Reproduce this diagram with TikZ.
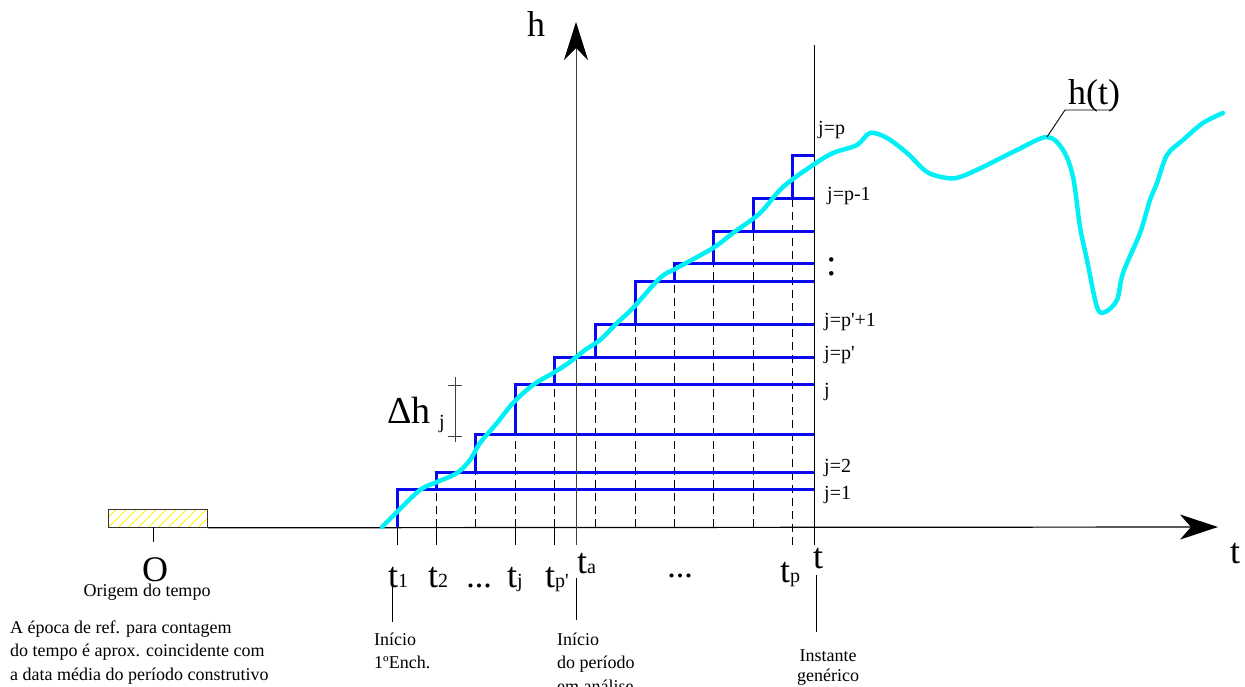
\documentclass[tikz,border=0pt]{standalone}
\usepackage{fontspec}
\setmainfont{Liberation Serif}[Ligatures=TeXOff]
\usetikzlibrary{arrows.meta}
\newcommand{\fs}[1]{\fontsize{#1}{#1}\selectfont}
\newcommand{\tsub}[1]{{\fs{36}t}{\fs{20}#1}}
\definecolor{stepblue}{RGB}{10,10,240}
\definecolor{hcyan}{RGB}{0,240,245}
\begin{document}
\begin{tikzpicture}[x=1pt,y=-1pt,
  blueline/.style={draw=stepblue, line width=3pt, line join=miter},
  dashline/.style={draw=black, line width=0.9pt, dash pattern=on 8pt off 5pt},
  axisline/.style={draw=black, line width=1.2pt},
  vaxis/.style={draw=black!75, line width=0.9pt},
  leader/.style={draw=black, line width=0.9pt},
  dimline/.style={draw=black!75, line width=0.9pt},
  hcurve/.style={draw=hcyan, line width=4.5pt, line cap=round, line join=round},
  big/.style={font=\fs{36}, inner sep=0pt},
  txt/.style={font=\fontsize{18}{23.5}\selectfont, inner sep=0pt, align=left},
  jlab/.style={font=\fs{20}, inner sep=0pt, anchor=mid west}
]
\useasboundingbox (0,0) rectangle (1245,687);
\fill[white] (0,0) rectangle (1245,687);

% steps and dashed verticals
\foreach \x/\ya/\yb in {436/489/472, 475/472/434, 515/434/384, 554/384/357, 595/357/324, 635/324/281, 674/281/263, 713/263/232, 753/232/199}
  \draw[dashline] (\x,527) -- (\x,\ya);
\draw[dashline] (792,545) -- (792,199);
\foreach \x/\ya/\yb in {397/527/489, 436/489/472, 475/472/434, 515/434/384, 554/384/357, 595/357/324, 635/324/281, 674/281/263, 713/263/232, 753/232/199, 792/199/156}
  \draw[blueline] (\x,\ya) -- (\x,\yb) -- (814,\yb);

% origin box
\node[draw=black!80, line width=0.8pt, minimum width=99pt, minimum height=18pt, inner sep=0pt, anchor=north west,
  path picture={\foreach \i in {-20,-10,...,110} \draw[yellow, line width=0.8pt] ([xshift=\i pt]path picture bounding box.south west) -- ++(18pt,18pt);}]
  (box) at (108,509) {};
\draw[leader] (153,527) -- (153,542);

% ticks
\foreach \x in {397,436,515,554}
  \draw[leader] (\x,527) -- (\x,545);
\draw[leader] (814,45) -- (814,545);

% axes
\draw[axisline, -{Stealth[length=38pt,width=25pt,inset=11pt]}] (box.south east) -- (1218,527);
\draw[vaxis, -{Stealth[length=38pt,width=24pt,inset=12pt,color=black]}] (576,545) -- (576,22);

% curve
\draw[hcurve] plot[smooth, tension=0.55] coordinates {
 (382,527) (397,512) (420,490) (437,482) (457,473) (470,460) (480,443) (497,423) (513,403)
 (533,385) (553,373) (570,362) (585,350) (600,340) (617,323) (633,308) (660,278) (677,268)
 (713,248) (733,233) (760,213) (783,187) (813,165) (833,153) (857,145) (870,133) (887,138)
 (907,153) (927,172) (947,178) (960,177) (983,167) (1017,150) (1047,137) (1063,150) (1073,177)
 (1080,227) (1087,260) (1097,307) (1105,312) (1117,300) (1123,273) (1140,233) (1150,200)
 (1157,183) (1167,155) (1183,140) (1203,123) (1223,113)};

% axis labels
\node[big, anchor=base] (hlab) at (536,37) {h};
\node[big, anchor=base] (tlab) at (1235,563) {t};
\node[big, anchor=base] (O) at (155,581) {O};
\node[txt, anchor=base] (origem) at (147,596) {Origem do tempo};
\node[txt, anchor=north west] (epoca) at (10,620.5) {A época de ref. para contagem\\do tempo é aprox. coincidente com\\a data média do período construtivo};

% time labels
\node[inner sep=0pt, anchor=base west] (t1) at (388,587) {\tsub{1}};
\node[inner sep=0pt, anchor=base west] (t2) at (428,587) {\tsub{2}};
\node[inner sep=0pt, anchor=base, font=\fs{34}] (dots1) at (479,587) {...};
\node[inner sep=0pt, anchor=base west] (tj) at (507,587) {\tsub{j}};
\node[inner sep=0pt, anchor=base west] (tpp) at (545,587) {\tsub{p'}};
\node[inner sep=0pt, anchor=base west] (ta) at (577,573) {\tsub{a}};
\node[inner sep=0pt, anchor=base, font=\fs{34}] (dots2) at (680,577) {...};
\node[inner sep=0pt, anchor=base west] (tp) at (780,582) {\tsub{p}};
\node[big, anchor=base west] (tgen) at (813,568) {t};

% leaders and notes
\coordinate (l1a) at (392,587); \coordinate (l1b) at (392,622);
\draw[leader] (l1a) -- (l1b);
\node[txt, anchor=north west] (inicio1) at (374,632.5) {Início\\1ºEnch.};
\coordinate (l2a) at (576,578); \coordinate (l2b) at (576,620);
\draw[leader] (l2a) -- (l2b);
\node[txt, anchor=north west] (inicio2) at (557,632.5) {Início\\do período\\em análise};
\coordinate (l3a) at (816,575); \coordinate (l3b) at (816,632);
\draw[leader] (l3a) -- (l3b);
\node[txt, anchor=north, align=center, font=\fontsize{18}{20}\selectfont] (inst) at (828,650) {Instante\\genérico};

% level labels
\node[jlab] (jp) at (818,132) {j=p};
\node[jlab] (jp1) at (827,198) {j=p-1};
\node[inner sep=0pt, anchor=base west, font=\fs{38}] (vdots) at (826,276) {:};
\node[jlab] (jpp1) at (824,324) {j=p'+1};
\node[jlab] (jpp) at (824,357) {j=p'};
\node[jlab] (jj) at (824,394) {j};
\node[jlab] (j2) at (824,470) {j=2};
\node[jlab] (j1) at (824,497) {j=1};

% delta h
\node[inner sep=0pt, anchor=base west, font=\fs{38}] (dh) at (387,423) {Δh};
\node[inner sep=0pt, anchor=base west, font=\fs{20}] (dhj) at (439,428) {j};
\draw[dimline] (455,377) -- (455,442);
\draw[dimline] (448,385) -- (462,385);
\draw[dimline] (448,436) -- (462,436);

% h(t)
\node[inner sep=0pt, anchor=base west, font=\fs{36}] (ht) at (1068,105) {h(t)};
\coordinate (hpt) at (1047,137);
\coordinate (hk) at (1065,110);
\coordinate (hend) at (1113,110);
\draw[leader] (hpt) -- (hk) -- (hend);
\end{tikzpicture}
\end{document}
